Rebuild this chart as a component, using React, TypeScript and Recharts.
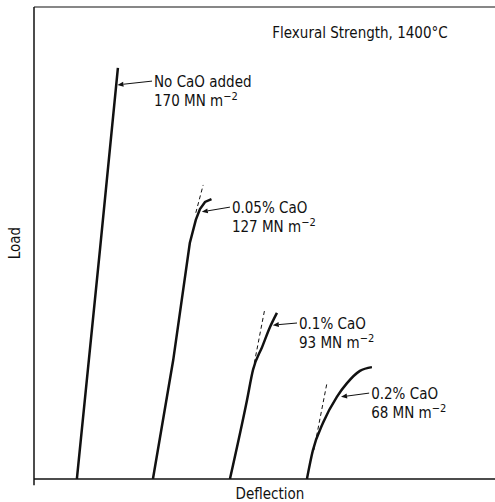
import React from "react";
import { LineChart, Line, XAxis, YAxis, ReferenceLine } from "recharts";

// load-deflection traces (arbitrary units, 0-100 on both axes)
const noCaO = [
  { x: 9.3, y: 0 },
  { x: 14.3, y: 48.5 },
  { x: 18.2, y: 87.1 },
];
const caO005 = [
  { x: 25.8, y: 0 },
  { x: 30.2, y: 25.2 },
  { x: 33.8, y: 50 },
  { x: 35.1, y: 54.9 },
  { x: 36.0, y: 57.2 },
  { x: 37.1, y: 58.7 },
  { x: 38.5, y: 59.3 },
];
const caO01 = [
  { x: 42.5, y: 0 },
  { x: 46.2, y: 16.7 },
  { x: 47.5, y: 23.1 },
  { x: 49.5, y: 28.0 },
  { x: 51.2, y: 32.2 },
  { x: 52.7, y: 35.2 },
];
const caO02 = [
  { x: 59.2, y: 0 },
  { x: 60.5, y: 6.1 },
  { x: 62.7, y: 11.9 },
  { x: 65.7, y: 17.4 },
  { x: 67.9, y: 20.3 },
  { x: 70.7, y: 22.9 },
  { x: 73.3, y: 23.7 },
];

// dashed linear extensions
const tangent005 = [
  { x: 35.1, y: 56.4 },
  { x: 36.7, y: 62.3 },
];
const tangent01 = [
  { x: 47.5, y: 23.1 },
  { x: 50.1, y: 36.2 },
];
const tangent02 = [
  { x: 60.7, y: 6.1 },
  { x: 63.6, y: 20.6 },
];

// annotation: label text, strength, arrow start (label) -> arrow tip (curve)
const callouts = [
  { text: "No CaO added", strength: "170", from: { x: 25.6, y: 84.3 }, to: { x: 18.1, y: 83.5 } },
  { text: "0.05% CaO", strength: "127", from: { x: 42.5, y: 57.6 }, to: { x: 36.4, y: 56.6 } },
  { text: "0.1% CaO", strength: "93", from: { x: 57.05, y: 33.05 }, to: { x: 51.8, y: 32.6 } },
  { text: "0.2% CaO", strength: "68", from: { x: 72.7, y: 18.2 }, to: { x: 66.6, y: 17.4 } },
];

const INK = "#111";
const FONT = "'DejaVu Sans Condensed', 'DejaVu Sans', sans-serif";

const arrowShape = (text: string, strength: string) => (props: any) => {
  const { x1, y1, x2, y2 } = props;
  const dx = x2 - x1;
  const dy = y2 - y1;
  const len = Math.sqrt(dx * dx + dy * dy) || 1;
  const ux = dx / len;
  const uy = dy / len;
  const hl = 6;
  const hw = 2.5;
  const bx = x2 - ux * hl;
  const by = y2 - uy * hl;
  return (
    <g>
      <line x1={x1} y1={y1} x2={bx} y2={by} stroke={INK} strokeWidth={1} />
      <polygon
        points={`${x2},${y2} ${bx - uy * hw},${by + ux * hw} ${bx + uy * hw},${by - ux * hw}`}
        fill={INK}
      />
      <text x={x1 + 2} y={y1 + 6} fontSize={15} fontFamily={FONT} fill={INK}>
        {text}
      </text>
      <text x={x1 + 2} y={y1 + 25} fontSize={15} fontFamily={FONT} fill={INK}>
        {strength} MN m
        <tspan dy={-6} fontSize={11}>
          −2
        </tspan>
      </text>
    </g>
  );
};

export default function App() {
  return (
    <div style={{ position: "absolute", left: 0, top: 0, width: 495, height: 502, background: "#fff" }}>
      <LineChart width={495} height={502} margin={{ top: 7, right: 0, bottom: 23, left: 34 }}>
        <XAxis type="number" dataKey="x" domain={[0, 100]} allowDataOverflow hide />
        <YAxis type="number" dataKey="y" domain={[0, 100]} allowDataOverflow hide />

        {/* frame: bottom axis, left axis, top border */}
        <ReferenceLine y={0} stroke={INK} strokeWidth={1.5} />
        <ReferenceLine
          segment={[
            { x: 0, y: -1.3 },
            { x: 0, y: 100 },
          ]}
          ifOverflow="visible"
          stroke={INK}
          strokeWidth={1.5}
        />
        <ReferenceLine y={100} stroke={INK} strokeWidth={1.2} />

        <ReferenceLine segment={tangent005} stroke={INK} strokeWidth={1} strokeDasharray="4 3" />
        <ReferenceLine segment={tangent01} stroke={INK} strokeWidth={1} strokeDasharray="4 3" />
        <ReferenceLine segment={tangent02} stroke={INK} strokeWidth={1} strokeDasharray="4 3" />

        <Line data={noCaO} dataKey="y" type="linear" stroke={INK} strokeWidth={2.5} dot={false} isAnimationActive={false} />
        <Line data={caO005} dataKey="y" type="linear" stroke={INK} strokeWidth={2.5} dot={false} isAnimationActive={false} />
        <Line data={caO01} dataKey="y" type="monotone" stroke={INK} strokeWidth={2.5} dot={false} isAnimationActive={false} />
        <Line data={caO02} dataKey="y" type="monotone" stroke={INK} strokeWidth={2.5} dot={false} isAnimationActive={false} />

        {callouts.map((c) => (
          <ReferenceLine
            key={c.text}
            segment={[c.from, c.to]}
            ifOverflow="visible"
            shape={arrowShape(c.text, c.strength)}
          />
        ))}

        <text x={360} y={38} textAnchor="middle" fontSize={15} fontFamily={FONT} fill={INK}>
          Flexural Strength, 1400°C
        </text>
        <text x={270} y={499} textAnchor="middle" fontSize={15} fontFamily={FONT} fill={INK}>
          Deflection
        </text>
        <text x={20} y={243} textAnchor="middle" fontSize={15} fontFamily={FONT} fill={INK} transform="rotate(-90 20 243)">
          Load
        </text>
      </LineChart>
    </div>
  );
}
